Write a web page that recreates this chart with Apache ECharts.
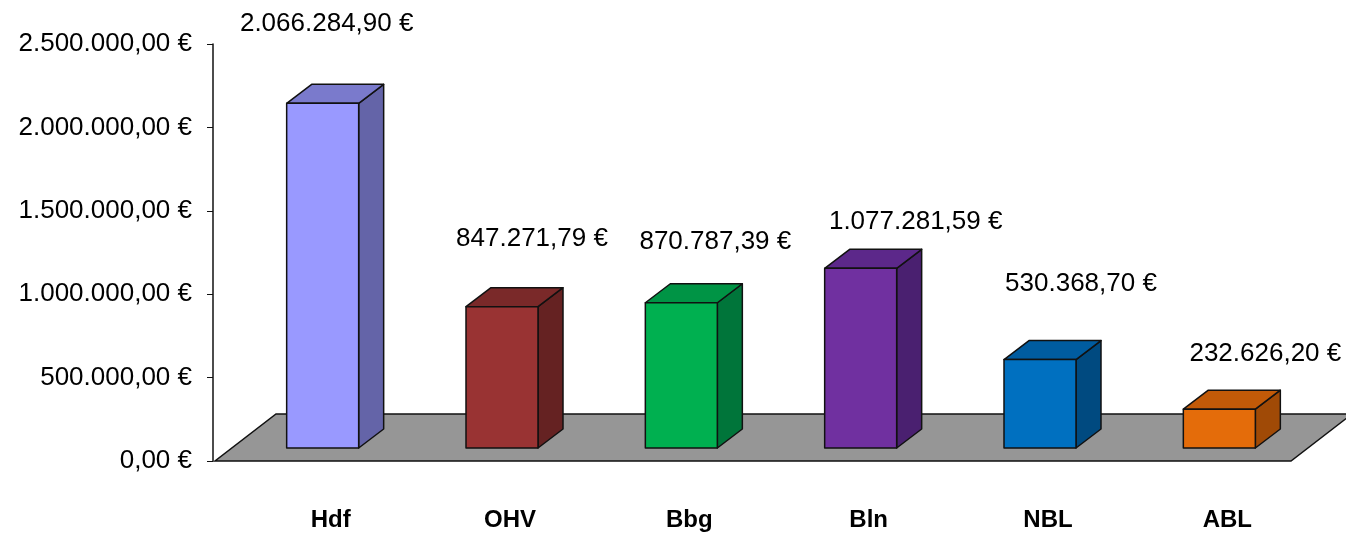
<!DOCTYPE html>
<html lang="de">
<head>
    <meta charset="utf-8" />
    <title>Beträge je Bereich</title>
    <script src="https://cdn.jsdelivr.net/npm/echarts@6/dist/echarts.min.js"></script>
    <style>
        body {
            margin: 0;
            padding: 0;
            background: #FFFFFF;
        }

        #main {
            width: 1346px;
            height: 541px;
        }
    </style>
</head>
<body>
<div id="main"></div>
<script type="text/javascript">
    // Data
    const categories = ['Hdf', 'OHV', 'Bbg', 'Bln', 'NBL', 'ABL'];
    const amounts = [2066284.90, 847271.79, 870787.39, 1077281.59, 530368.70, 232626.20];
    const yTicks = [0, 500000, 1000000, 1500000, 2000000, 2500000];

    // Bar colours: front, side, top
    const frontColors = ['#9999FF', '#993333', '#00B050', '#7030A0', '#0070C0', '#E46C0A'];
    const sideColors = ['#6464A8', '#652222', '#00753A', '#4A2070', '#004A80', '#A04A06'];
    const topColors = ['#7A7ACC', '#7A2929', '#009445', '#5C288A', '#005CA0', '#C25A08'];

    // Manual label nudges (px from the top centre of the front face)
    const labelNudge = [[4, -80], [30, -68], [34, -61], [55, -46], [41, -76], [46, -55]];

    const FONT = "'Liberation Sans', Arial, sans-serif";
    const halfW = 36;        // half width of the front face
    const depth = [25, -19]; // bar depth offset
    const lift = 13;         // bars stand a bit back on the floor
    const floorDepth = [61, -47];

    // 1234567.8 -> "1.234.567,80 €"
    function euro(v) {
        const parts = v.toFixed(2).split('.');
        const intPart = parts[0].replace(/\B(?=(\d{3})+(?!\d))/g, '.');
        return intPart + ',' + parts[1] + ' €';
    }

    var myChart = echarts.init(document.getElementById('main'));

    var option = {
        backgroundColor: '#FFFFFF',
        animation: false,
        grid: {
            left: 233,
            right: 37,
            top: 44,
            bottom: 80
        },
        xAxis: {
            type: 'category',
            data: categories,
            axisLine: {show: false},
            axisTick: {show: false},
            axisLabel: {
                margin: 47,
                color: '#000',
                fontFamily: FONT,
                fontSize: 24,
                fontWeight: 'bold',
                padding: [0, 0, 0, 16]
            }
        },
        yAxis: {
            type: 'value',
            min: yTicks[0],
            max: yTicks[yTicks.length - 1],
            interval: yTicks[1] - yTicks[0],
            offset: 20,
            axisLine: {
                show: true,
                lineStyle: {color: '#111', width: 1.5}
            },
            axisTick: {
                show: true,
                length: 6,
                lineStyle: {color: '#111', width: 1}
            },
            axisLabel: {
                margin: 21,
                color: '#000',
                fontFamily: FONT,
                fontSize: 26,
                formatter: euro
            },
            splitLine: {show: false}
        },
        series: [
            {
                // grey floor
                type: 'custom',
                z: 1,
                data: [[0, 0]],
                renderItem: function (params, api) {
                    const cs = params.coordSys;
                    const y0 = api.coord([0, 0])[1];
                    const xl = cs.x - 18;
                    const xr = cs.x + cs.width - 18;
                    return {
                        type: 'polygon',
                        shape: {
                            points: [
                                [xl, y0],
                                [xr, y0],
                                [xr + floorDepth[0], y0 + floorDepth[1]],
                                [xl + floorDepth[0], y0 + floorDepth[1]]
                            ]
                        },
                        style: {fill: '#969696', stroke: '#111', lineWidth: 1.5}
                    };
                }
            },
            {
                // 3d boxes
                type: 'custom',
                z: 2,
                data: amounts.map((v, i) => [i, v]),
                renderItem: function (params, api) {
                    const i = params.dataIndex;
                    const val = api.value(1);
                    const top = api.coord([api.value(0), val]);
                    const base = api.coord([api.value(0), 0]);
                    const cx = top[0];
                    const yt = top[1] - lift;
                    const yb = base[1] - lift;
                    const xl = cx - halfW;
                    const xr = cx + halfW;
                    const dx = depth[0], dy = depth[1];
                    const edge = {stroke: '#111', lineWidth: 1.5, lineJoin: 'round'};
                    return {
                        type: 'group',
                        children: [
                            {
                                type: 'polygon',
                                shape: {points: [[xr, yb], [xr, yt], [xr + dx, yt + dy], [xr + dx, yb + dy]]},
                                style: Object.assign({fill: sideColors[i]}, edge)
                            },
                            {
                                type: 'polygon',
                                shape: {points: [[xl, yt], [xl + dx, yt + dy], [xr + dx, yt + dy], [xr, yt]]},
                                style: Object.assign({fill: topColors[i]}, edge)
                            },
                            {
                                type: 'rect',
                                shape: {x: xl, y: yt, width: xr - xl, height: yb - yt},
                                style: Object.assign({fill: frontColors[i]}, edge)
                            },
                            {
                                type: 'text',
                                x: cx + labelNudge[i][0],
                                y: yt + labelNudge[i][1],
                                style: {
                                    text: euro(val),
                                    fill: '#000',
                                    font: '26px ' + FONT,
                                    align: 'center',
                                    verticalAlign: 'middle'
                                }
                            }
                        ]
                    };
                }
            }
        ]
    };

    myChart.setOption(option);
</script>
</body>
</html>
